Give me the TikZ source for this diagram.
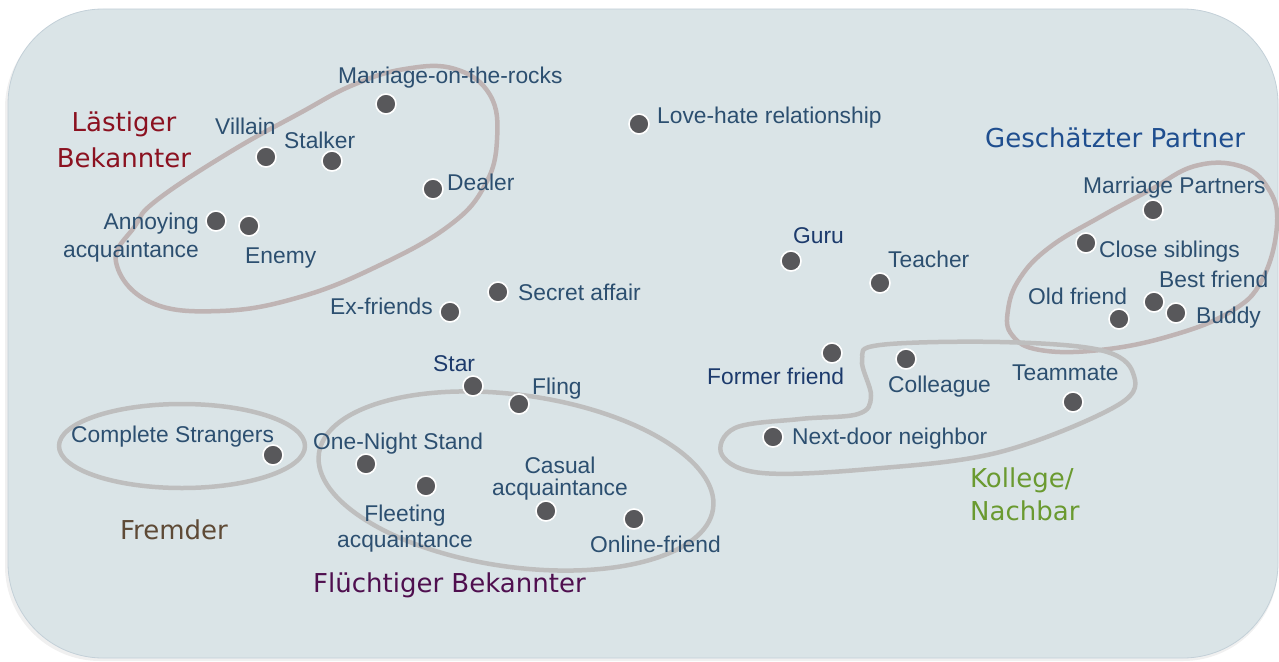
\documentclass[tikz,border=0pt]{standalone}
\usepackage{fontspec}
\setmainfont{Liberation Sans}
\newfontfamily\headfont{DejaVu Sans}
\definecolor{bgfill}{HTML}{DAE4E7}
\definecolor{bgline}{HTML}{C3D0D8}
\definecolor{dotfill}{HTML}{58585B}
\definecolor{lbl}{HTML}{2C4F70}
\definecolor{lbldark}{HTML}{1C3A6C}
\definecolor{ringpink}{HTML}{BFB4B4}
\definecolor{ringgrey}{HTML}{BEBEBE}
\definecolor{hRed}{HTML}{8B1120}
\definecolor{hBlue}{HTML}{1F4E8F}
\definecolor{hGreen}{HTML}{6A9A30}
\definecolor{hBrown}{HTML}{5E4A36}
\definecolor{hPurple}{HTML}{4F0F4F}
\begin{document}
\begin{tikzpicture}[x=1pt,y=-1pt,
  dot/.style={circle, fill=dotfill, draw=white, line width=1.6pt, minimum size=20pt, inner sep=0pt},
  lab/.style={inner sep=0pt, text=lbl, font=\fontsize{22.8}{27}\selectfont},
  head/.style={inner sep=0pt, font=\headfont\fontsize{26}{31}\selectfont},
  ring/.style={line width=4.5pt, line join=round}]
\useasboundingbox (0,0) rectangle (1279,661);
% panel with a soft shadow
\fill[black, opacity=0.06, rounded corners=95pt] (5,13) rectangle (1278,661);
\filldraw[fill=bgfill, draw=bgline, line width=0.8pt, rounded corners=95pt] (8,9) rectangle (1278,658);

% group outlines
\draw[ring, ringpink] plot[smooth cycle, tension=0.7] coordinates {
  (116,262) (135,226) (157,200) (230,152) (300,113) (353,85) (405,69) (455,69)
  (490,95) (497,140) (485,185) (450,225) (380,265) (300,297) (220,311) (150,302)};
\draw[ring, ringpink] plot[smooth cycle, tension=0.7] coordinates {
  (1008,310) (1020,278) (1050,247) (1100,217) (1150,190) (1195,166) (1240,166)
  (1268,188) (1277,225) (1262,280) (1230,312) (1170,336) (1100,350) (1040,350) (1012,335)};
\draw[ring, ringgrey] plot[smooth cycle, tension=0.6] coordinates {
  (880,345) (1000,342) (1100,350) (1133,373) (1118,405) (1000,452) (870,469)
  (762,473) (722,455) (735,428) (800,419) (858,414) (871,396) (862,360)};
\draw[ring, ringgrey] (182,446) ellipse [x radius=123pt, y radius=42pt];
\draw[ring, ringgrey, rotate around={-8:(516,481)}] (516,481) ellipse [x radius=199pt, y radius=86pt];

% group titles
\node[head, text=hRed, anchor=base] (lastL1) at (124,131) {Lästiger};
\node[head, text=hRed, anchor=base] (lastL2) at (124,167) {Bekannter};
\node[head, text=hBlue, anchor=base west] (geschL) at (985,147) {Geschätzter Partner};
\node[head, text=hGreen, anchor=base west] (kollL1) at (970,487) {Kollege/};
\node[head, text=hGreen, anchor=base west] (kollL2) at (970,520) {Nachbar};
\node[head, text=hBrown, anchor=base] (fremdL) at (174,539) {Fremder};
\node[head, text=hPurple, anchor=base west] (fluchL) at (313,592) {Flüchtiger Bekannter};

% relationships
\node[dot] (mrocks) at (386,104) {};
\node[lab, anchor=base west] (mrocksL) at (338,84) {Marriage-on-the-rocks};
\node[dot] (villain) at (266,157) {};
\node[lab, anchor=base west] (villainL) at (215,134) {Villain};
\node[dot] (stalker) at (332,161) {};
\node[lab, anchor=base west] (stalkerL) at (284,148) {Stalker};
\node[dot] (dealer) at (433,189) {};
\node[lab, anchor=base west] (dealerL) at (447,190) {Dealer};
\node[dot] (annoy) at (216,221) {};
\node[lab, anchor=base east] (annoyL1) at (199,229) {Annoying};
\node[lab, anchor=base east] (annoyL2) at (199,257) {acquaintance};
\node[dot] (enemy) at (249,226) {};
\node[lab, anchor=base west] (enemyL) at (245,263) {Enemy};
\node[dot] (lovehate) at (639,124) {};
\node[lab, anchor=base west] (lovehateL) at (657,123) {Love-hate relationship};
\node[dot] (affair) at (498,292) {};
\node[lab, anchor=base west] (affairL) at (518,300) {Secret affair};
\node[dot] (exf) at (450,312) {};
\node[lab, anchor=base east] (exfL) at (433,314) {Ex-friends};
\node[dot] (guru) at (791,261) {};
\node[lab, text=lbldark, anchor=base west] (guruL) at (793,243) {Guru};
\node[dot] (teacher) at (880,283) {};
\node[lab, anchor=base west] (teacherL) at (888,267) {Teacher};
\node[dot] (mpart) at (1153,210) {};
\node[lab, anchor=base west] (mpartL) at (1083,193) {Marriage Partners};
\node[dot] (sibl) at (1086,243) {};
\node[lab, anchor=base west] (siblL) at (1099,257) {Close siblings};
\node[dot] (bestf) at (1154,302) {};
\node[lab, anchor=base west] (bestfL) at (1159,287) {Best friend};
\node[dot] (buddy) at (1176,313) {};
\node[lab, anchor=base west] (buddyL) at (1196,323) {Buddy};
\node[dot] (oldf) at (1119,319) {};
\node[lab, anchor=base west] (oldfL) at (1028,304) {Old friend};
\node[dot] (formerf) at (832,353) {};
\node[lab, text=lbldark, anchor=base west] (formerfL) at (707,384) {Former friend};
\node[dot] (colleague) at (906,359) {};
\node[lab, anchor=base west] (colleagueL) at (888,392) {Colleague};
\node[dot] (teammate) at (1073,402) {};
\node[lab, anchor=base west] (teammateL) at (1012,380) {Teammate};
\node[dot] (neighbor) at (773,437) {};
\node[lab, anchor=base west] (neighborL) at (792,444) {Next-door neighbor};
\node[dot] (star) at (473,386) {};
\node[lab, text=lbldark, anchor=base west] (starL) at (433,371) {Star};
\node[dot] (fling) at (519,404) {};
\node[lab, anchor=base west] (flingL) at (532,394) {Fling};
\node[dot] (onenight) at (366,464) {};
\node[lab, anchor=base west] (onenightL) at (313,449) {One-Night Stand};
\node[dot] (fleeting) at (426,486) {};
\node[lab, anchor=base] (fleetingL1) at (405,521) {Fleeting};
\node[lab, anchor=base] (fleetingL2) at (405,547) {acquaintance};
\node[dot] (casual) at (546,511) {};
\node[lab, anchor=base] (casualL1) at (560,473) {Casual};
\node[lab, anchor=base] (casualL2) at (560,495) {acquaintance};
\node[dot] (online) at (634,519) {};
\node[lab, anchor=base west] (onlineL) at (590,552) {Online-friend};
\node[dot] (stranger) at (273,455) {};
\node[lab, anchor=base west] (strangerL) at (71,442) {Complete Strangers};
\end{tikzpicture}
\end{document}
